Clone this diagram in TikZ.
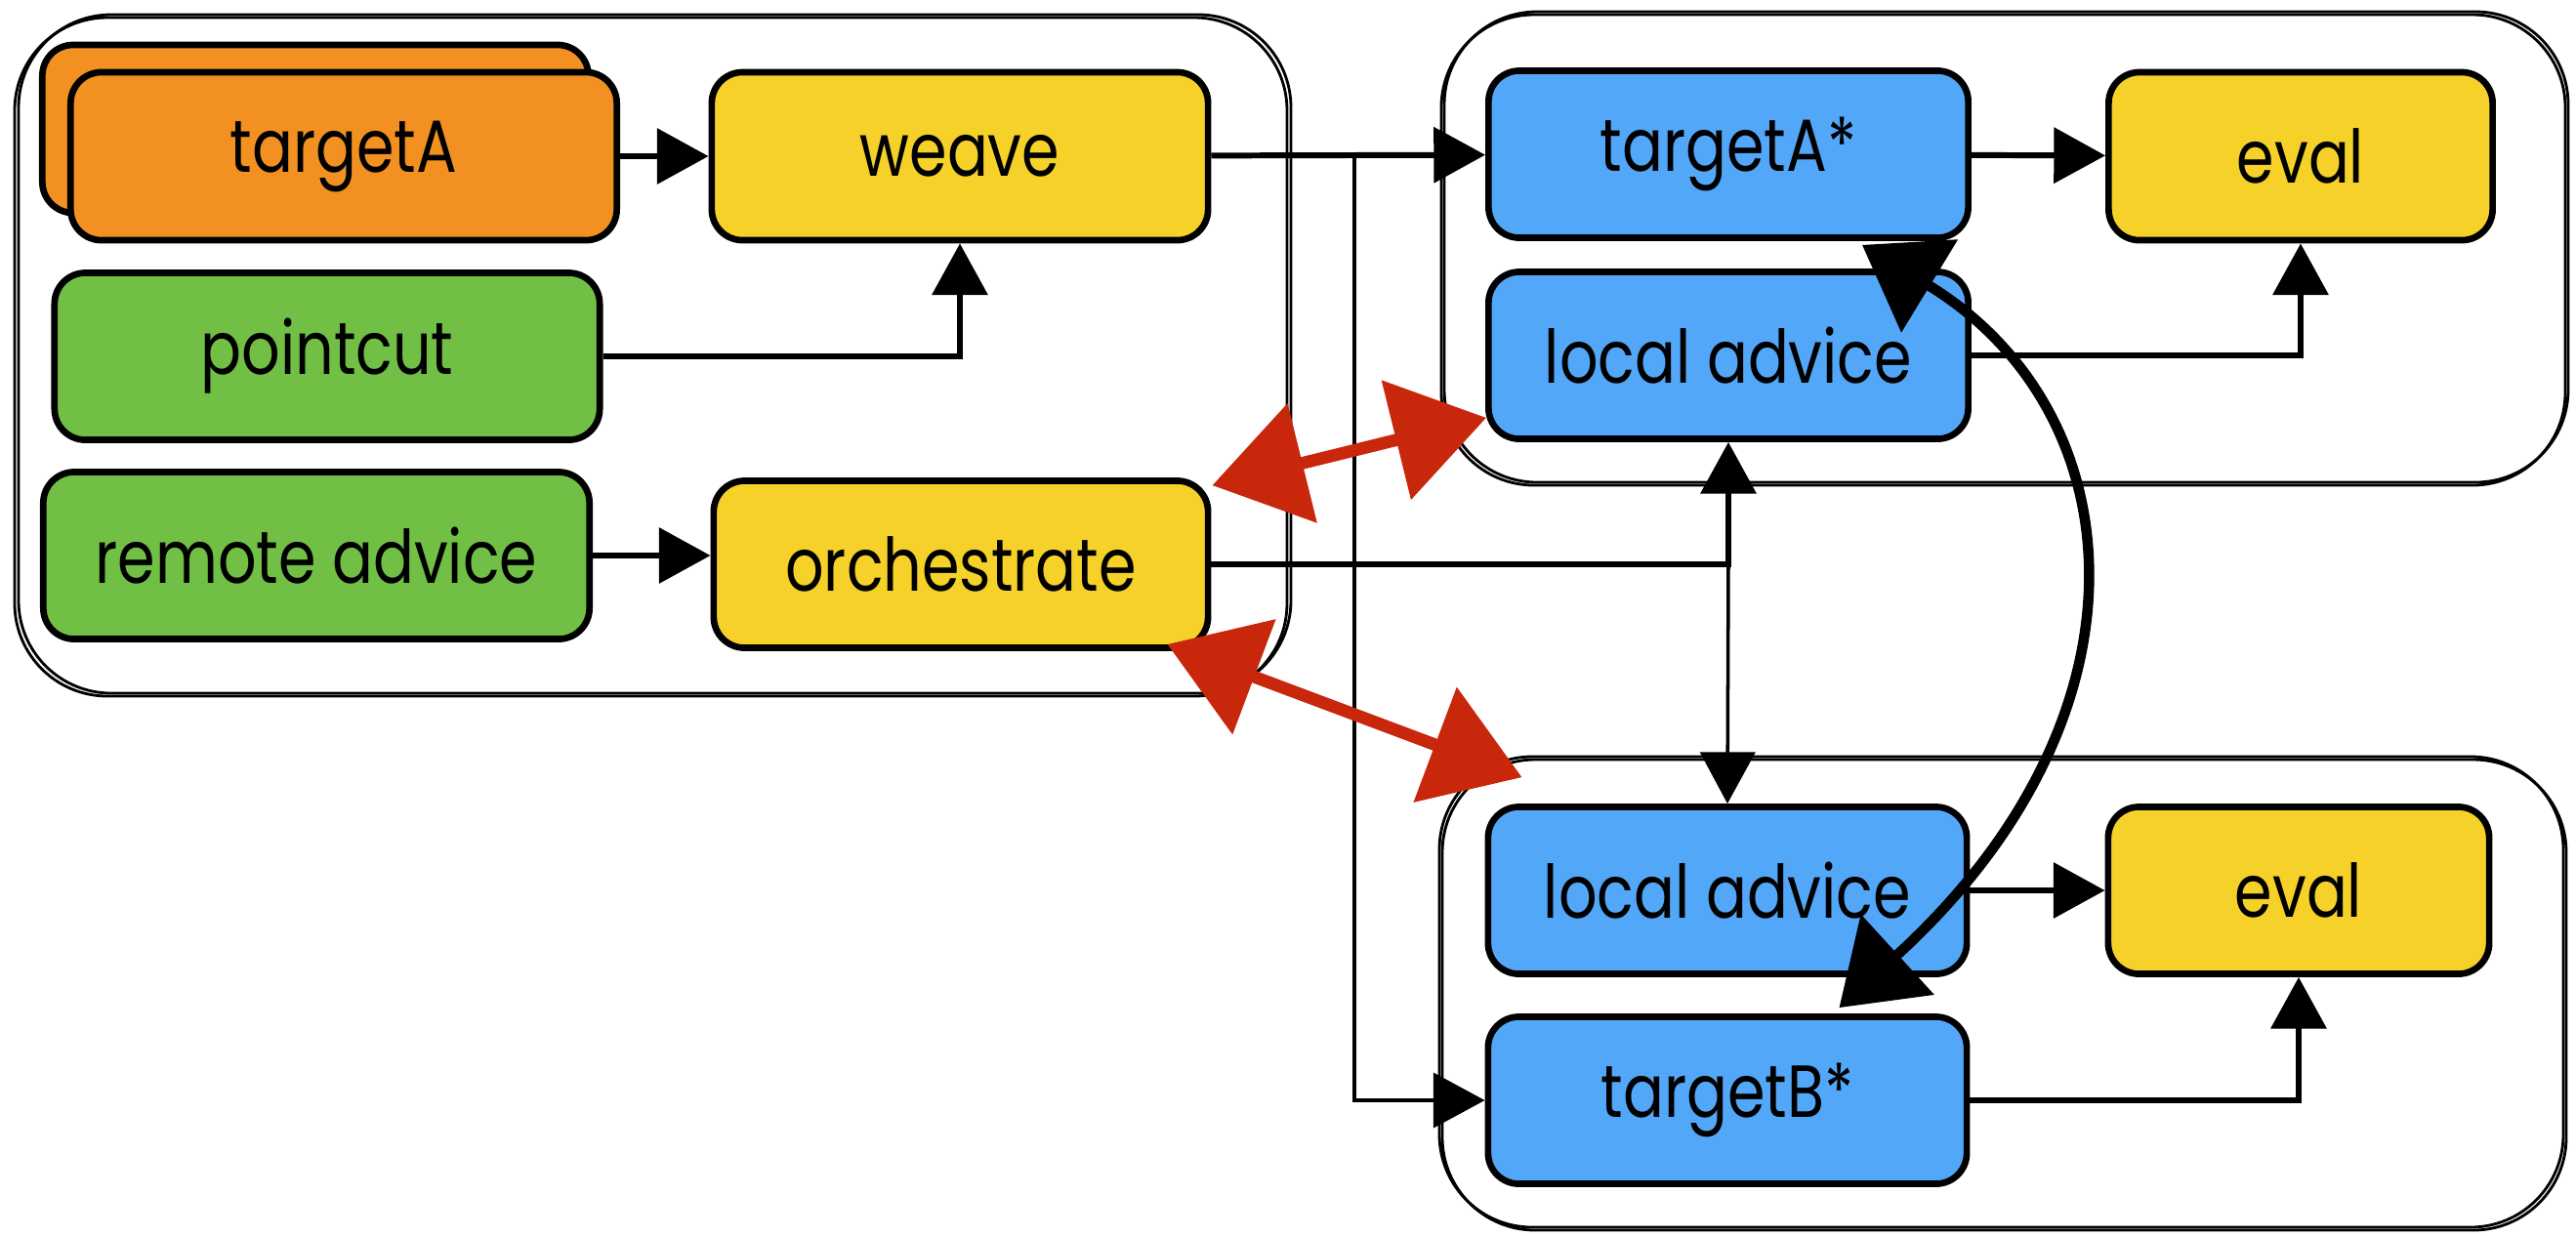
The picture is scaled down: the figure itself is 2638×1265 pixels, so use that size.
\documentclass[tikz,border=0pt]{standalone}
\usepackage{fontspec}
\setmainfont{Poppins}[FakeStretch=0.82]
\usetikzlibrary{arrows.meta}

\definecolor{cOrange}{HTML}{F29121}
\definecolor{cYellow}{HTML}{F5D12A}
\definecolor{cGreen}{HTML}{71BF44}
\definecolor{cBlue}{HTML}{53A7F8}
\definecolor{cRed}{HTML}{C9270C}

\begin{document}
\begin{tikzpicture}[x=0.01cm, y=-0.01cm,
  box/.style={draw=black, line width=1.9pt, rounded corners=9pt,
    minimum height=1.71cm, inner sep=0pt, font=\fontsize{21.5}{25}\selectfont},
  group/.style={draw=black, line width=0.8pt, rounded corners=27pt},
  link/.style={draw=black, line width=1.7pt, -{Triangle[length=15pt,width=16pt]}},
  thinlink/.style={draw=black, line width=1pt, -{Triangle[length=15pt,width=16pt]}},
  curvelink/.style={draw=black, line width=3pt,
    {Triangle[length=23pt,width=31pt]}-{Triangle[length=23pt,width=31pt]}},
  redlink/.style={draw=cRed, line width=3.6pt,
    {Triangle[length=27pt,width=35pt]}-{Triangle[length=27pt,width=35pt]}},
]
\useasboundingbox (0,0) rectangle (2638,1265);

% group frames, each drawn twice for a sketched look
\draw[group] (15,18) rectangle (1318,713);
\draw[group, shift={(4,-3)}] (15,18) rectangle (1318,713);
\draw[group] (1479,12) rectangle (2630,494);
\draw[group, shift={(-3,3)}] (1479,12) rectangle (2630,494);
\draw[group] (1477,778) rectangle (2628,1260);
\draw[group, shift={(-3,-3)}] (1477,778) rectangle (2628,1260);

% left group
\node[box, fill=cOrange, minimum width=5.59cm, minimum height=1.72cm] (tAback) at (323,132) {};
\node[box, fill=cOrange, minimum width=5.59cm, minimum height=1.72cm] (tA) at (352,160) {targetA};
\node[box, fill=cYellow, minimum width=5.08cm, minimum height=1.72cm] (weave) at (983,160) {weave};
\node[box, fill=cGreen, minimum width=5.58cm] (pc) at (335,365) {pointcut};
\node[box, fill=cGreen, minimum width=5.59cm] (ra) at (324,569) {remote advice};
\node[box, fill=cYellow, minimum width=5.06cm] (oc) at (984,578) {orchestrate};

% upper right group
\node[box, fill=cBlue, minimum width=4.91cm] (tAs) at (1770,158) {targetA*};
\node[box, fill=cYellow, minimum width=3.93cm, minimum height=1.72cm] (ev1) at (2356,160) {eval};
\node[box, fill=cBlue, minimum width=4.91cm] (la1) at (1770,364) {local advice};

% lower right group
\node[box, fill=cBlue, minimum width=4.90cm] (la2) at (1769,912) {local advice};
\node[box, fill=cYellow, minimum width=3.90cm] (ev2) at (2354,912) {eval};
\node[box, fill=cBlue, minimum width=4.90cm] (tB) at (1769,1127) {targetB*};

% straight connectors
\coordinate (wsplit) at (1387,160);
\coordinate (ocsplit) at (1770,578);
\draw[link] (tA) -- (weave);
\draw[link] (pc.east) -| (weave.south);
\draw[link] (ra.east) -- (ra.east -| oc.west);
\draw[link] (weave) -- (tAs);
\draw[thinlink] (wsplit) |- (tB.west);
\draw[link] (tAs) -- (ev1);
\draw[link] (la1.east) -| (ev1.south);
\draw[link] (oc.east) -| (la1.south);
\draw[thinlink] (ocsplit) -- (la2.north);
\draw[link] (la2) -- (ev2);
\draw[link] (tB.east) -| (ev2.south);

% exchange between the two targets
\draw[curvelink] ([shift={(-112,4)}]tAs.south east)
  .. controls (2185,420) and (2215,730) .. ([shift={(-134,-6)}]tB.north east);

% orchestration links
\draw[redlink] ([shift={(1,8)}]oc.north east) -- ([shift={(1,-25)}]la1.south west);
\draw[redlink] ([shift={(-45,-7)}]oc.south east) -- ([shift={(38,-27)}]la2.north west);
\end{tikzpicture}
\end{document}
